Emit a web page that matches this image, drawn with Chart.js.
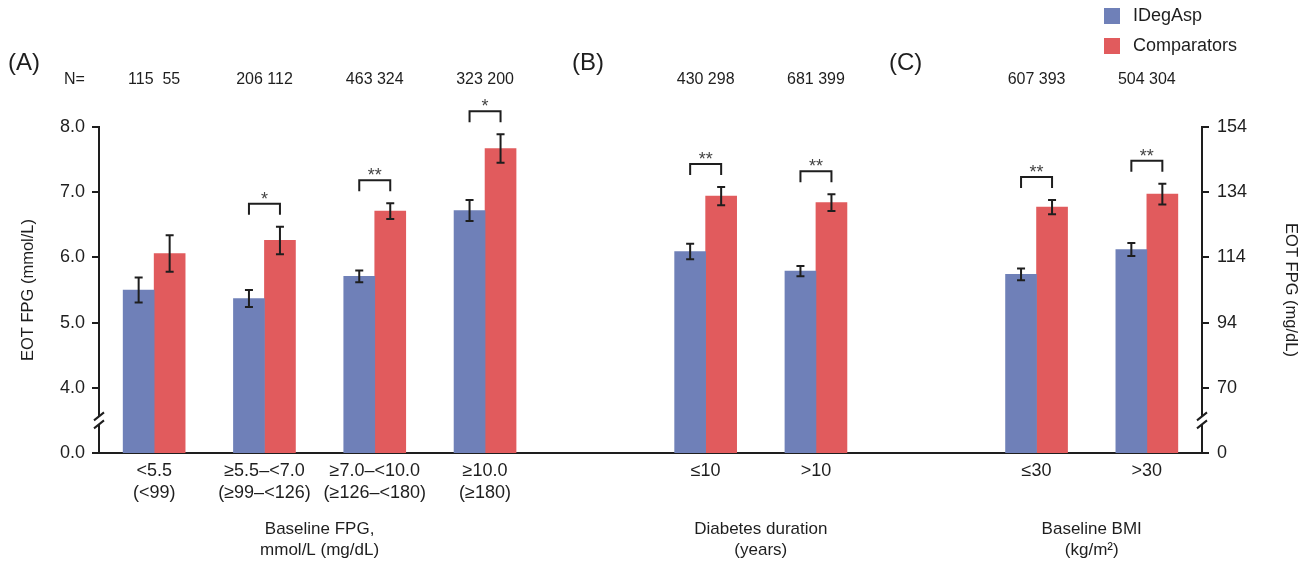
<!DOCTYPE html>
<html>
<head>
<meta charset="utf-8">
<script src="https://cdn.jsdelivr.net/npm/chart.js@4.4.0/dist/chart.umd.min.js"></script>
<style>
  html, body { margin: 0; padding: 0; background: #fff; }
  #wrap { width: 1309px; height: 564px; }
</style>
</head>
<body>
<div id="wrap"><canvas id="chart" width="1309" height="564"></canvas></div>
<script>
// カテゴリ（'' はパネル間のすき間）
const categories = [['<5.5', '(<99)'], ['≥5.5–<7.0', '(≥99–<126)'], ['≥7.0–<10.0', '(≥126–<180)'], ['≥10.0', '(≥180)'], '', '≤10', '>10', '', '≤30', '>30'];

// EOT FPG (mmol/L) と誤差
const idegValues = [5.50, 5.37, 5.71, 6.72, null, 6.09, 5.79, null, 5.74, 6.12];
const idegErrors = [0.19, 0.13, 0.09, 0.16, null, 0.12, 0.08, null, 0.09, 0.10];
const compValues = [6.06, 6.26, 6.71, 7.67, null, 6.94, 6.84, null, 6.77, 6.97];
const compErrors = [0.28, 0.21, 0.12, 0.22, null, 0.14, 0.13, null, 0.11, 0.16];

// 症例数と有意差
const idegN = [115, 206, 463, 323, null, 430, 681, null, 607, 504];
const compN = [55, 112, 324, 200, null, 298, 399, null, 393, 304];
const signif = ['', '*', '**', '*', '', '**', '**', '', '**', '**'];

// 軸目盛（3 の位置に 0 を表示：軸の省略）
const yTicks = [3, 4, 5, 6, 7, 8];
const yLabelsMmol = ['0.0', '4.0', '5.0', '6.0', '7.0', '8.0'];
const yLabelsMg = ['0', '70', '94', '114', '134', '154'];

const panelLabels = ['(A)', '(B)', '(C)'];
const groupTitles = [
    { from: 1, to: 2, lines: ['Baseline FPG,', 'mmol/L (mg/dL)'] },
    { from: 5, to: 6, lines: ['Diabetes duration', '(years)'] },
    { from: 8, to: 9, lines: ['Baseline BMI', '(kg/m²)'] }
];

const FONT = "'Liberation Sans', Arial, Helvetica, sans-serif";
const INK = '#1e1e1e';
const BLUE = '#6f80b8';
const RED = '#e15b5d';

// 誤差棒・有意差・N・凡例などを描くプラグイン
const annotations = {
    id: 'annotations',
    afterDraw(chart) {
        const { ctx, scales } = chart;
        const y = scales.y;
        const metaA = chart.getDatasetMeta(0);
        const metaB = chart.getDatasetMeta(1);
        ctx.save();

        // 誤差棒
        ctx.strokeStyle = INK;
        ctx.lineWidth = 2;
        [[metaA, idegValues, idegErrors], [metaB, compValues, compErrors]].forEach(([meta, vals, errs]) => {
            meta.data.forEach((bar, i) => {
                if (vals[i] == null) return;
                const top = y.getPixelForValue(vals[i] + errs[i]);
                const bot = y.getPixelForValue(vals[i] - errs[i]);
                ctx.beginPath();
                ctx.moveTo(bar.x, top); ctx.lineTo(bar.x, bot);
                ctx.moveTo(bar.x - 4, top); ctx.lineTo(bar.x + 4, top);
                ctx.moveTo(bar.x - 4, bot); ctx.lineTo(bar.x + 4, bot);
                ctx.stroke();
            });
        });

        // 有意差ブラケット
        signif.forEach((s, i) => {
            if (!s) return;
            const xa = metaA.data[i].x, xb = metaB.data[i].x;
            const topA = y.getPixelForValue(idegValues[i] + idegErrors[i]);
            const topB = y.getPixelForValue(compValues[i] + compErrors[i]);
            const by = Math.min(topA, topB) - 23;
            ctx.strokeStyle = INK;
            ctx.lineWidth = 2;
            ctx.beginPath();
            ctx.moveTo(xa, by + 11); ctx.lineTo(xa, by); ctx.lineTo(xb, by); ctx.lineTo(xb, by + 11);
            ctx.stroke();
            ctx.fillStyle = '#444';
            ctx.font = `18px ${FONT}`;
            ctx.textAlign = 'center';
            ctx.textBaseline = 'alphabetic';
            ctx.fillText(s, (xa + xb) / 2, by + 1);
        });

        // N=
        ctx.fillStyle = INK;
        ctx.font = `16px ${FONT}`;
        ctx.textBaseline = 'middle';
        ctx.textAlign = 'left';
        ctx.fillText('N=', 64, 80);
        ctx.textAlign = 'center';
        idegN.forEach((n, i) => {
            if (n == null) return;
            const cx = (metaA.data[i].x + metaB.data[i].x) / 2;
            const gap = String(compN[i]).length < 3 ? '  ' : ' ';
            ctx.fillText(`${n}${gap}${compN[i]}`, cx, 80);
        });

        // パネルラベル
        ctx.font = `24px ${FONT}`;
        ctx.textAlign = 'left';
        [8, 572, 889].forEach((px, k) => ctx.fillText(panelLabels[k], px, 63));

        // グループ見出し
        ctx.font = `17px ${FONT}`;
        ctx.textAlign = 'center';
        groupTitles.forEach(g => {
            const cx = (metaA.data[g.from].x + metaB.data[g.to].x) / 2;
            g.lines.forEach((t, k) => ctx.fillText(t, cx, 529 + k * 21));
        });

        // 凡例
        ctx.font = `18px ${FONT}`;
        ctx.textAlign = 'left';
        chart.data.datasets.forEach((ds, k) => {
            const ly = 8 + k * 30;
            ctx.fillStyle = ds.backgroundColor;
            ctx.fillRect(1104, ly, 16, 16);
            ctx.fillStyle = INK;
            ctx.fillText(ds.label, 1133, ly + 8);
        });

        // 軸の省略記号
        const brk = y.getPixelForValue(3.5);
        [chart.chartArea.left, chart.chartArea.right].forEach(ax => {
            ctx.fillStyle = '#fff';
            ctx.fillRect(ax - 2, brk - 4, 4, 8);
            ctx.strokeStyle = INK;
            ctx.lineWidth = 2;
            ctx.beginPath();
            ctx.moveTo(ax - 5, brk); ctx.lineTo(ax + 5, brk - 8);
            ctx.moveTo(ax - 5, brk + 8); ctx.lineTo(ax + 5, brk);
            ctx.stroke();
        });
        ctx.restore();
    }
};

const yAxisBase = {
    min: 3,
    max: 8,
    border: { display: true, color: INK, width: 2 },
    grid: { drawOnChartArea: false, color: INK, lineWidth: 2, tickLength: 7 },
    afterBuildTicks: scale => { scale.ticks = yTicks.map(v => ({ value: v })); }
};

new Chart(document.getElementById('chart'), {
    type: 'bar',
    data: {
        labels: categories,
        datasets: [
            { label: 'IDegAsp', data: idegValues, backgroundColor: BLUE, barThickness: 31, yAxisID: 'y' },
            { label: 'Comparators', data: compValues, backgroundColor: RED, barThickness: 31, yAxisID: 'y' }
        ]
    },
    options: {
        responsive: false,
        animation: false,
        layout: { padding: { top: 127, left: 0, right: 0, bottom: 0 } },
        plugins: { legend: { display: false }, tooltip: { enabled: false } },
        scales: {
            x: {
                offset: true,
                border: { display: true, color: INK, width: 2 },
                grid: { display: false, drawTicks: false },
                ticks: {
                    color: INK, padding: 8, maxRotation: 0, autoSkip: false,
                    font: { family: FONT, size: 18, lineHeight: 1.17 }
                },
                afterFit: scale => { scale.height = 111; }
            },
            y: {
                ...yAxisBase,
                position: 'left',
                ticks: {
                    color: INK, padding: 7, font: { family: FONT, size: 18 },
                    callback: v => yLabelsMmol[yTicks.indexOf(v)]
                },
                title: {
                    display: true, text: 'EOT FPG (mmol/L)', color: INK,
                    font: { family: FONT, size: 16.5 }, padding: { top: 19 }
                },
                afterFit: scale => { scale.width = 99; }
            },
            y2: {
                ...yAxisBase,
                position: 'right',
                ticks: {
                    color: INK, padding: 8, font: { family: FONT, size: 18 },
                    callback: v => yLabelsMg[yTicks.indexOf(v)]
                },
                title: {
                    display: true, text: 'EOT FPG (mg/dL)', color: INK,
                    font: { family: FONT, size: 16.5 }, padding: { top: 9 }
                },
                afterFit: scale => { scale.width = 107; }
            }
        }
    },
    plugins: [annotations]
});
</script>
</body>
</html>
